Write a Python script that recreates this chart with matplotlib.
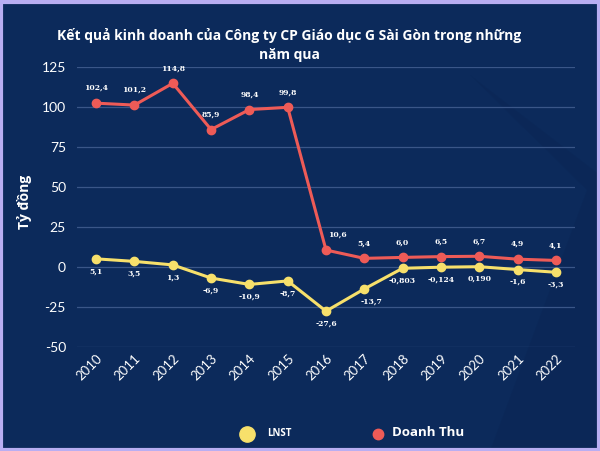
import matplotlib
matplotlib.use("Agg")
import matplotlib.pyplot as plt
from matplotlib.patches import Polygon, Rectangle
from matplotlib.lines import Line2D

years = ["2010", "2011", "2012", "2013", "2014", "2015", "2016",
         "2017", "2018", "2019", "2020", "2021", "2022"]
doanh_thu = [102.4, 101.2, 114.8, 85.9, 98.4, 99.8, 10.6, 5.4, 6.0, 6.5, 6.7, 4.9, 4.1]
lnst = [5.1, 3.5, 1.3, -6.9, -10.9, -8.7, -27.6, -13.7, -0.803, -0.124, 0.190, -1.6, -3.3]
dt_labels = ["102,4", "101,2", "114,8", "85,9", "98,4", "99,8", "10,6",
             "5,4", "6,0", "6,5", "6,7", "4,9", "4,1"]
lnst_labels = ["5,1", "3,5", "1,3", "-6,9", "-10,9", "-8,7", "-27,6",
               "-13,7", "-0,803", "-0,124", "0,190", "-1,6", "-3,3"]
yticks = [-50, -25, 0, 25, 50, 75, 100, 125]

BG = "#0c2a5b"
RED = "#ee5b57"
YEL = "#f7e06b"

fig = plt.figure(figsize=(6.0, 4.51), dpi=100)
fig.patch.set_facecolor(BG)

W, H = 600, 451
def fc(x, y):
    return (x / W, 1 - y / H)
# subtle background shapes
fig.add_artist(Polygon([fc(470, 75), fc(600, 175), fc(600, 451), fc(490, 451), fc(587, 190)],
                       closed=True, transform=fig.transFigure, facecolor="#0a2452",
                       edgecolor="none", alpha=0.35, zorder=0))
# border
fig.add_artist(Rectangle((0.002, 0.002), 0.996, 0.993, transform=fig.transFigure,
                         fill=False, edgecolor="#b9aef2", linewidth=3, zorder=10))

ax = fig.add_axes([77 / W, 1 - 347 / H, (575 - 77) / W, (347 - 67) / H])
ax.set_facecolor("none")
x = list(range(len(years)))

ax.plot(x, lnst, color=YEL, linewidth=2.2, marker="o", markersize=6, zorder=3)
ax.plot(x, doanh_thu, color=RED, linewidth=2.2, marker="o", markersize=6, zorder=3)

lab_font = dict(family="DejaVu Serif", fontweight="bold", fontsize=5.5, color="white")
for i, (v, t) in enumerate(zip(doanh_thu, dt_labels)):
    dx = 8 if i == 6 else 0
    ax.annotate(t, (i, v), xytext=(dx, 8), textcoords="offset points",
                ha="center", va="bottom", **lab_font)
for i, (v, t) in enumerate(zip(lnst, lnst_labels)):
    dx = 5 if i == 7 else 0
    ax.annotate(t, (i, v), xytext=(dx, -6), textcoords="offset points",
                ha="center", va="top", **lab_font)

ax.set_xlim(-0.5, len(years) - 0.5)
ax.set_ylim(-50, 125)
ax.set_yticks(yticks)
ax.set_yticklabels([str(t) for t in yticks], fontsize=10, color="white", family="Lato")
ax.set_xticks(x)
ax.set_xticklabels(years, rotation=45, ha="right", rotation_mode="anchor",
                   fontsize=9.5, color="white", family="Lato")
ax.tick_params(length=0, pad=8)
ax.tick_params(axis="x", pad=4)
ax.grid(axis="y", color="#3a5688", linewidth=0.9)
ax.set_axisbelow(True)
for s in ax.spines.values():
    s.set_visible(False)

fig.text(289 / W, 1 - 45 / H,
         "Kết quả kinh doanh của Công ty CP Giáo dục G Sài Gòn trong những\nnăm qua",
         ha="center", va="center", color="white", fontsize=10, fontweight="bold",
         family="Open Sans", linespacing=1.4)
fig.text(24 / W, 1 - 202 / H, "Tỷ đồng", rotation=90, ha="center", va="center",
         color="white", fontsize=10, fontweight="bold", family="Open Sans")

# legend
fig.add_artist(Line2D([247 / W], [1 - 434 / H], marker="o", markersize=11,
                      color=YEL, linestyle="none", transform=fig.transFigure))
fig.text(267 / W, 1 - 434 / H, "LNST", ha="left", va="center", color="white",
         fontsize=7, fontweight="bold", family="Open Sans")
fig.add_artist(Line2D([378 / W], [1 - 434 / H], marker="o", markersize=7.5,
                      color=RED, linestyle="none", transform=fig.transFigure))
fig.text(392 / W, 1 - 433 / H, "Doanh Thu", ha="left", va="center", color="white",
         fontsize=9.5, fontweight="bold", family="Open Sans")

fig.savefig("out.png", dpi=100, facecolor=BG)
